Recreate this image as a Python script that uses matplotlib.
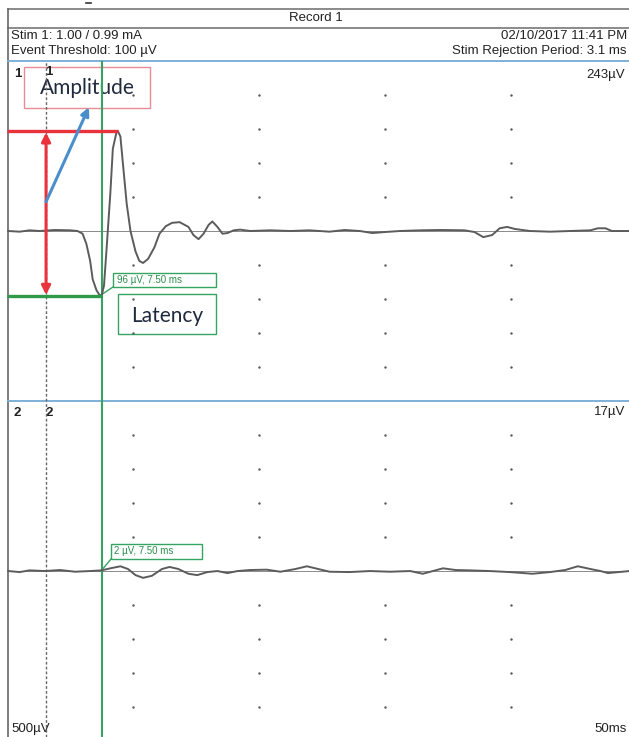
"""Evoked response record: two traces with amplitude / latency annotations."""
import matplotlib

matplotlib.use("Agg")
import matplotlib.pyplot as plt

W, H = 629, 737

# --- trace 1 (time in ms, amplitude in uV) ---------------------------------
t1 = [0.1, 1.0, 1.8, 2.6, 3.8, 5.0, 5.6, 6.0, 6.3, 6.6, 6.8, 7.1, 7.3, 7.5,
      7.7, 7.9, 8.2, 8.4, 8.7, 8.8, 9.0, 9.2, 9.5, 9.8, 10.2, 10.5, 10.8,
      11.2, 11.7, 12.1, 12.6, 13.1, 13.7, 14.4, 14.8, 15.2, 15.6, 16.0, 16.3,
      16.7, 17.1, 17.5, 18.0, 18.5, 19.3, 20.9, 22.5, 24.0, 25.6, 26.8, 28.0,
      29.0, 30.0, 31.2, 32.8, 34.4, 36.3, 37.1, 37.8, 38.5, 39.1, 39.7, 40.3,
      41.5, 43.1, 44.7, 46.3, 46.9, 47.5, 48.0, 49.4]
v1 = [0, -1, 1, 0, 1.5, 1, 0, -4, -19, -44, -71, -87, -93, -96,
      -80, -27, 55, 121, 146, 147, 139, 99, 40, 0, -30, -44, -47,
      -41, -24, -4, 7, 12, 13, 6, -6, -12, -4, 9, 14,
      6, -4, -3, 1, 2, 0, 1, 0, 1, -1, 1.5, 0,
      -3, -1.5, 0, 1, 1.5, 1, -1.5, -9, -6, 4, 6, 3,
      0, -1, 0, 1, 4, 4, 0, 0]

# --- trace 2 ---------------------------------------------------------------
t2 = [0.1, 1.0, 1.8, 3.0, 4.2, 5.4, 6.6, 7.5, 8.2, 9.0, 9.6, 10.2, 10.8,
      11.5, 12.3, 12.9, 13.6, 14.4, 15.1, 15.9, 16.7, 17.5, 18.3, 19.3, 20.6,
      21.7, 22.9, 23.8, 24.7, 25.6, 27.2, 28.8, 30.4, 32.0, 33.0, 33.8, 34.6,
      35.6, 36.7, 38.3, 39.9, 41.7, 43.1, 44.3, 45.3, 46.3, 47.1, 47.7, 49.4]
v2 = [0, -1.5, 1, 0, 1.5, -1, 0, 1, 4, 7, 3, -6, -10,
      -7, 3, 6, 3, -4, -6, -1.5, 0, -3, 0, 1.5, 2,
      -1, 3, 7, 3, -1, -1.5, 0, -1, 0, -4, 0, 4,
      1.5, 1, 0, -1.5, -4, -1.5, 1.5, 7, 3, 0, -3, 0]

grid_t = [10, 20, 30, 40]
grid_v = [-200, -150, -100, -50, 50, 100, 150, 200]

stim_ms = 3.1           # cursor / stim rejection period
lat_ms = 7.50           # latency cursor
trough_uv, peak_uv = -96, 147
peak_ms = 8.8

header_left = ["Stim 1: 1.00 / 0.99 mA", "Event Threshold: 100 \u00b5V"]
header_right = ["02/10/2017 11:41 PM", "Stim Rejection Period: 3.1 ms"]

GRAY = "#555555"
BLUE_SEP = "#7fb0d6"
GREEN = "#35a462"
RED = "#e8323c"


def rect(x, y, w, h):
    return [x / W, 1 - (y + h) / H, w / W, h / H]


fig = plt.figure(figsize=(W / 100, H / 100), dpi=100)

# overlay in pixel coordinates for the frame and header
ov = fig.add_axes([0, 0, 1, 1])
ov.set_xlim(0, W)
ov.set_ylim(H, 0)
ov.axis("off")
ov.plot([8, W], [9, 9], color="#777777", lw=1.2)
ov.plot([8, W], [28, 28], color="#777777", lw=1.2)
ov.plot([8, 8], [9, H], color="#666666", lw=1.2)
ov.plot([86, 91], [3, 3], color="#333333", lw=1.2)
ov.plot([8, W], [61, 61], color=BLUE_SEP, lw=1.4)
ov.plot([8, W], [401, 401], color=BLUE_SEP, lw=1.4)
hf = dict(family="Liberation Sans", fontsize=9.5, color="#222222", va="center")
ov.text(316, 18, "Record 1", ha="center", **hf)
ov.text(11, 36, header_left[0], ha="left", **hf)
ov.text(11, 51, header_left[1], ha="left", **hf)
ov.text(627, 36, header_right[0], ha="right", **hf)
ov.text(627, 51, header_right[1], ha="right", **hf)

lf = dict(family="Liberation Sans", fontsize=9.5, color="#222222", va="center")
ov.text(14, 74, "1", ha="left", weight="bold", **lf)
ov.text(45, 72, "1", ha="left", weight="bold", **lf)
ov.text(625, 75, "243\u00b5V", ha="right", **lf)
ov.text(14, 413, "2", ha="left", weight="bold", **lf)
ov.text(45, 413, "2", ha="left", weight="bold", **lf)
ov.text(625, 412, "17\u00b5V", ha="right", **lf)
ov.text(11, 729, "500\u00b5V", ha="left", **lf)
ov.text(627, 729, "50ms", ha="right", **lf)

ax1 = fig.add_axes(rect(7, 61, 622, 340))
ax2 = fig.add_axes(rect(7, 401, 622, 336))
ax1.set_ylim(-250, 250)
ax2.set_ylim(-244, 250)

for ax, t, v in ((ax1, t1, v1), (ax2, t2, v2)):
    ax.set_xlim(0, 622 / 12.6)
    ax.axis("off")
    ax.patch.set_alpha(0)
    ax.axhline(0, color="#8a8a8a", lw=0.7, zorder=1)
    for gt in grid_t:
        ax.scatter([gt] * len(grid_v), grid_v, s=3, color=GRAY, lw=0, zorder=2)
    ax.axvline(stim_ms, color="#666666", lw=1.0, ls=(0, (2, 1.5)), zorder=2)
    ax.axvline(lat_ms, color=GREEN, lw=1.5, zorder=3)
    ax.plot(t, v, color="#5c5c5c", lw=1.4, zorder=4)

# amplitude annotation
ax1.plot([0, peak_ms], [peak_uv, peak_uv], color=RED, lw=2.4, zorder=5,
         solid_capstyle="butt")
ax1.plot([0, lat_ms], [trough_uv, trough_uv], color="#2e9a4a", lw=2.4, zorder=5,
         solid_capstyle="butt")
ax1.annotate("", xy=(stim_ms, peak_uv - 2), xytext=(stim_ms, trough_uv + 2),
             arrowprops=dict(arrowstyle="<|-|>", color=RED, lw=2.2,
                             mutation_scale=13, shrinkA=0, shrinkB=0), zorder=6)
ax1.annotate("", xy=(6.5, 182), xytext=(stim_ms, 43),
             arrowprops=dict(arrowstyle="-|>", color="#4a8fcc", lw=2.2,
                             mutation_scale=12, shrinkA=0, shrinkB=0), zorder=6)

big = dict(family="Lato", fontsize=15, color="#1f2a3c", va="center", ha="center")
ov.text(87, 88, "Amplitude", **big)
ov.add_patch(plt.Rectangle((24, 67), 126, 41, fill=False, ec="#e98a94", lw=1.0))
ov.text(167, 316, "Latency", **big)
ov.add_patch(plt.Rectangle((118, 294), 98, 40, fill=False, ec=GREEN, lw=1.0))

# cursor value boxes
small = dict(family="Liberation Sans", fontsize=7, color="#2a8f4c", va="center", ha="left")
ov.add_patch(plt.Rectangle((113, 273), 103, 14, fill=False, ec=GREEN, lw=1.0))
ov.text(117, 280, "96 \u00b5V, 7.50 ms", **small)
ov.plot([101, 113], [295, 287], color=GREEN, lw=1.0)
ov.add_patch(plt.Rectangle((111, 544), 91, 15, fill=False, ec=GREEN, lw=1.0))
ov.text(114, 551.5, "2 \u00b5V, 7.50 ms", **small)
ov.plot([101, 111], [571, 559], color=GREEN, lw=1.0)

fig.savefig("out.png", dpi=100)
